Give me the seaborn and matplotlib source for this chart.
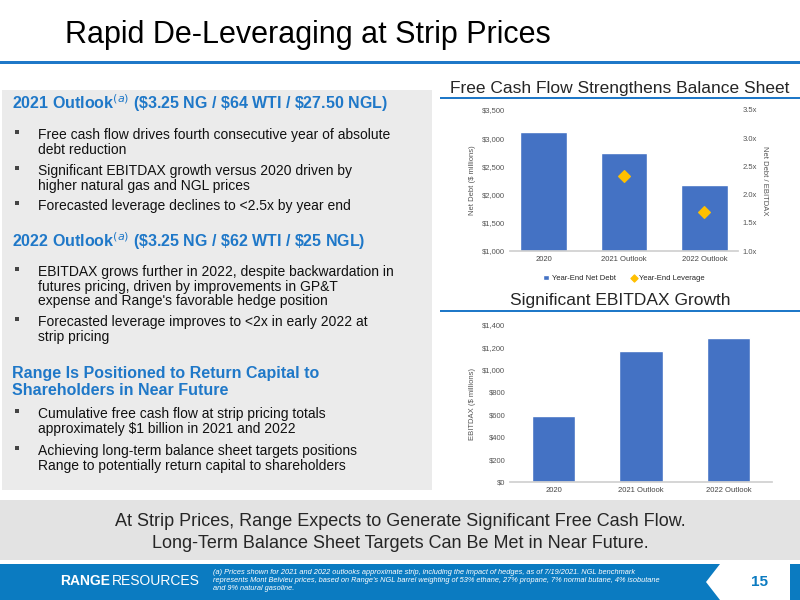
import matplotlib
matplotlib.use("Agg")
import matplotlib.pyplot as plt
import seaborn as sns
import pandas as pd
from matplotlib.patches import Rectangle, Polygon

categories = ["2020", "2021 Outlook", "2022 Outlook"]
net_debt = [3110, 2740, 2170]
leverage_cats = ["2021 Outlook", "2022 Outlook"]
leverage = [2.33, 1.70]
ebitdax = [590, 1170, 1280]

sns.set_theme(style="white")
plt.rcParams['font.family'] = ['Liberation Sans', 'DejaVu Sans']
BLUE = "#4472C4"
DBLUE = "#1F78C8"

fig = plt.figure(figsize=(8, 6), dpi=100)
W, H = 800, 600
def fx(x): return x / W
def fy(y): return 1 - y / H

# title
fig.text(fx(65), fy(35), "Rapid De-Leveraging at Strip Prices", fontsize=22, va="center", color="black")
fig.add_artist(Rectangle((fx(0), fy(64)), 1, 3/H, transform=fig.transFigure, color=DBLUE, lw=0))

# left gray panel
fig.add_artist(Rectangle((fx(2), fy(490)), fx(430), 400/H, transform=fig.transFigure, color="#EBEBEB", lw=0))
items = [
    ("h", 103, "2021 Outlook$^{(a)}$ (\\$3.25 NG / \\$64 WTI / \\$27.50 NGL)"),
    ("b", 128, "Free cash flow drives fourth consecutive year of absolute\ndebt reduction"),
    ("b", 164, "Significant EBITDAX growth versus 2020 driven by\nhigher natural gas and NGL prices"),
    ("b", 199, "Forecasted leverage declines to <2.5x by year end"),
    ("h", 241, "2022 Outlook$^{(a)}$ (\\$3.25 NG / \\$62 WTI / \\$25 NGL)"),
    ("b", 265, "EBITDAX grows further in 2022, despite backwardation in\nfutures pricing, driven by improvements in GP&T\nexpense and Range's favorable hedge position"),
    ("b", 315, "Forecasted leverage improves to <2x in early 2022 at\nstrip pricing"),
    ("h", 382, "Range Is Positioned to Return Capital to\nShareholders in Near Future"),
    ("b", 407, "Cumulative free cash flow at strip pricing totals\napproximately \\$1 billion in 2021 and 2022"),
    ("b", 444, "Achieving long-term balance sheet targets positions\nRange to potentially return capital to shareholders"),
]
for kind, y, t in items:
    if kind == "h":
        fig.text(fx(12), fy(y), t, fontsize=11.5, fontweight="bold", color="#1F78C8", va="center", linespacing=1.15)
    else:
        fig.add_artist(Rectangle((fx(15), fy(y + 6)), 4/W, 4/H, transform=fig.transFigure, color="#444444", lw=0))
        fig.text(fx(38), fy(y), t, fontsize=10, color="#111111", va="top", linespacing=1.05)

# chart titles
fig.text(fx(620), fy(88), "Free Cash Flow Strengthens Balance Sheet", fontsize=12.5, ha="center", va="center")
fig.add_artist(Rectangle((fx(440), fy(99)), fx(360), 2/H, transform=fig.transFigure, color=DBLUE, lw=0))
fig.text(fx(620), fy(300), "Significant EBITDAX Growth", fontsize=12.5, ha="center", va="center")
fig.add_artist(Rectangle((fx(440), fy(312)), fx(360), 2/H, transform=fig.transFigure, color=DBLUE, lw=0))

# top chart
ax1 = fig.add_axes([fx(510), fy(251), fx(228), (251 - 110) / H])
df1 = pd.DataFrame({"cat": categories, "v": net_debt})
sns.barplot(data=df1, x="cat", y="v", color=BLUE, width=0.58, ax=ax1, label="Year-End Net Debt", saturation=1)
ax1.set_ylim(1000, 3500)
ax1.set_yticks(range(1000, 3501, 500))
ax1.set_yticklabels([f"${v:,}" for v in range(1000, 3501, 500)], fontsize=5.5, color="#555555")
ax1.set_xlabel(""); ax1.set_ylabel("Net Debt ($ millions)", fontsize=5.5, color="#555555")
ax1.tick_params(axis="x", labelsize=5.5, colors="#444444", length=0)
ax1.tick_params(axis="y", length=0)
for s in ["top", "right", "left"]:
    ax1.spines[s].set_visible(False)
ax1.spines["bottom"].set_color("#D0D0D0")
ax2 = ax1.twinx()
ax2.scatter([categories.index(c) for c in leverage_cats], leverage, marker="D", s=35, color="#FFC000", zorder=5, label="Year-End Leverage")
ax2.set_ylim(1.0, 3.5)
ax2.set_yticks([1.0, 1.5, 2.0, 2.5, 3.0, 3.5])
ax2.set_yticklabels([f"{v:.1f}x" for v in [1.0, 1.5, 2.0, 2.5, 3.0, 3.5]], fontsize=5.5, color="#555555")
ax2.set_ylabel("Net Debt / EBITDAX", fontsize=5.5, color="#555555", rotation=270, labelpad=8)
ax2.tick_params(axis="y", length=0)
for s in ax2.spines.values():
    s.set_visible(False)
ax2.grid(False); ax1.grid(False)
h1, l1 = ax1.get_legend_handles_labels()
h2, l2 = ax2.get_legend_handles_labels()
ax1.legend(h1 + h2, l1 + l2, loc="upper center", bbox_to_anchor=(0.5, -0.12), ncol=2, frameon=False,
           fontsize=5.5, handlelength=0.8, handletextpad=0.3, markerscale=0.6)

# bottom chart
ax3 = fig.add_axes([fx(510), fy(482), fx(262), (482 - 325) / H])
df2 = pd.DataFrame({"cat": categories, "v": ebitdax})
sns.barplot(data=df2, x="cat", y="v", color=BLUE, width=0.5, ax=ax3, saturation=1)
ax3.set_ylim(0, 1400)
ax3.set_yticks(range(0, 1401, 200))
ax3.set_yticklabels([f"${v:,}" for v in range(0, 1401, 200)], fontsize=5.5, color="#555555")
ax3.set_xlabel(""); ax3.set_ylabel("EBITDAX ($ millions)", fontsize=5.5, color="#555555")
ax3.tick_params(axis="x", labelsize=5.5, colors="#444444", length=0)
ax3.tick_params(axis="y", length=0)
for s in ["top", "right", "left"]:
    ax3.spines[s].set_visible(False)
ax3.spines["bottom"].set_color("#D0D0D0")
ax3.grid(False)

# bottom banner
fig.add_artist(Rectangle((fx(0), fy(560)), 1, 60/H, transform=fig.transFigure, color="#E3E3E3", lw=0))
fig.text(0.5, fy(521), "At Strip Prices, Range Expects to Generate Significant Free Cash Flow.", fontsize=13, ha="center", va="center")
fig.text(0.5, fy(544), "Long-Term Balance Sheet Targets Can Be Met in Near Future.", fontsize=13, ha="center", va="center")

# footer
fig.add_artist(Rectangle((0, 0), 1, 36/H, transform=fig.transFigure, color="#0B7BC1", lw=0))
fig.add_artist(Polygon([(fx(720), fy(564)), (fx(790), fy(564)), (fx(790), fy(600)), (fx(720), fy(600)), (fx(706), fy(582))],
                       closed=True, transform=fig.transFigure, color="white", lw=0))
fig.text(fx(760), fy(582), "15", fontsize=11, fontweight="bold", color="#0B7BC1", ha="center", va="center")
fig.text(fx(60), fy(581), "RANGE", fontsize=10, fontweight="bold", color="white", va="center")
fig.text(fx(112), fy(581), "RESOURCES", fontsize=10, color="white", va="center")
fig.text(fx(213), fy(581), "(a) Prices shown for 2021 and 2022 outlooks approximate strip, including the impact of hedges, as of 7/19/2021. NGL benchmark\nrepresents Mont Belvieu prices, based on Range's NGL barrel weighting of 53% ethane, 27% propane, 7% normal butane, 4% isobutane\nand 9% natural gasoline.",
         fontsize=5.3, style="italic", color="white", va="center", linespacing=1.2)

fig.savefig("out.png", dpi=100)
